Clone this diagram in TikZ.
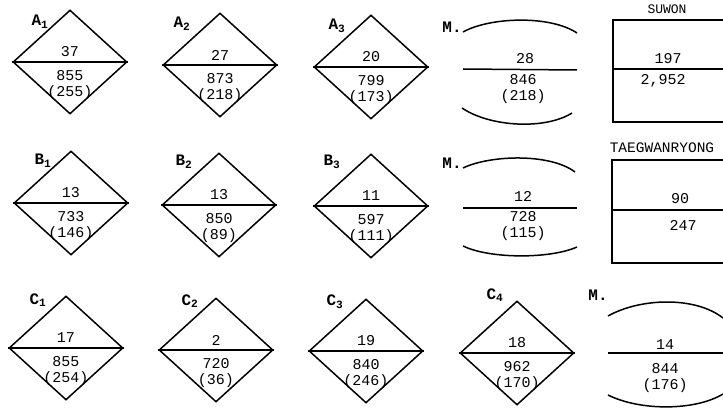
\documentclass[tikz,border=0pt]{standalone}
\usepackage{fontspec}
\setmainfont{Liberation Mono}
\usetikzlibrary{shapes.geometric}

\begin{document}
\begin{tikzpicture}[x=1pt,y=-1pt,
  site/.style={draw,shape=diamond,line width=1.5pt,minimum width=114pt,
    minimum height=104pt,inner sep=0pt},
  rule/.style={line width=1.5pt},
  num/.style={font=\fontsize{15}{16}\selectfont,inner sep=0pt,align=center},
  tag/.style={font=\fontsize{16}{16}\selectfont\bfseries,inner sep=0pt},
  place/.style={font=\fontsize{13}{13}\selectfont,inner sep=0pt}]
  \useasboundingbox (0,0) rectangle (723,409);

  % first row
  \node[site] (a1) at (70,62) {};
  \draw[rule] (a1.west) -- (a1.east);
  \node[tag] (a1l) at (40,22) {A\textsubscript{1}};
  \node[num] (a1t) at ([yshift=10pt]a1.center) {37};
  \node[num] (a1m) at ([yshift=-23pt]a1.center) {855\\(255)};

  \node[site] (a2) at (220,65) {};
  \draw[rule] (a2.west) -- (a2.east);
  \node[tag] (a2l) at (182,24) {A\textsubscript{2}};
  \node[num] (a2t) at ([yshift=10pt]a2.center) {27};
  \node[num] (a2m) at ([yshift=-23pt]a2.center) {873\\(218)};

  \node[site] (a3) at (371,67) {};
  \draw[rule] (a3.west) -- (a3.east);
  \node[tag] (a3l) at (337,26) {A\textsubscript{3}};
  \node[num] (a3t) at ([yshift=10pt]a3.center) {20};
  \node[num] (a3m) at ([yshift=-23pt]a3.center) {799\\(173)};

  \node[tag] (m1l) at (452,27) {M.};
  \draw[rule] (463,32) .. controls (490,17) and (550,15) .. (577,33);
  \draw[rule] (463,69) -- (577,70);
  \draw[rule] (462,108) .. controls (490,127) and (545,130) .. (572,113);
  \node[num] (m1t) at (525,59) {28};
  \node[num] (m1m) at (523,89) {846\\(218)};

  \node[place] (suwon) at (667,9) {SUWON};
  \draw[rule] (723,20) -| (613,122) -- (723,122);
  \draw[rule] (613,69) -- (723,69);
  \node[num] (sut) at (668,59) {197};
  \node[num] (sub) at (663,81) {2,952};

  % second row
  \node[site] (b1) at (71,203) {};
  \draw[rule] (b1.west) -- (b1.east);
  \node[tag] (b1l) at (43,161) {B\textsubscript{1}};
  \node[num] (b1t) at ([yshift=10pt]b1.center) {13};
  \node[num] (b1m) at ([yshift=-23pt]b1.center) {733\\(146)};

  \node[site] (b2) at (219,205) {};
  \draw[rule] (b2.west) -- (b2.east);
  \node[tag] (b2l) at (184,162) {B\textsubscript{2}};
  \node[num] (b2t) at ([yshift=10pt]b2.center) {13};
  \node[num] (b2m) at ([yshift=-23pt]b2.center) {850\\(89)};

  \node[site] (b3) at (371,206) {};
  \draw[rule] (b3.west) -- (b3.east);
  \node[tag] (b3l) at (332,162) {B\textsubscript{3}};
  \node[num] (b3t) at ([yshift=10pt]b3.center) {11};
  \node[num] (b3m) at ([yshift=-23pt]b3.center) {597\\(111)};

  \node[tag] (m2l) at (452,163) {M.};
  \draw[rule] (463,168) .. controls (490,155) and (550,153) .. (575,172);
  \draw[rule] (463,208) -- (577,208);
  \draw[rule] (463,246) .. controls (490,259) and (550,259) .. (577,247);
  \node[num] (m2t) at (523,196) {12};
  \node[num] (m2m) at (523,226) {728\\(115)};

  \node[place,font=\fontsize{14.5}{14.5}\selectfont] (taeg) at (662,148) {TAEGWANRYONG};
  \draw[rule] (723,160) -| (612,263) -- (723,263);
  \draw[rule] (612,210) -- (723,210);
  \node[num] (tat) at (680,199) {90};
  \node[num] (tab) at (683,225) {247};

  % third row
  \node[site] (c1) at (66,348) {};
  \draw[rule] (c1.west) -- (c1.east);
  \node[tag] (c1l) at (38,300) {C\textsubscript{1}};
  \node[num] (c1t) at ([yshift=10pt]c1.center) {17};
  \node[num] (c1m) at ([yshift=-23pt]c1.center) {855\\(254)};

  \node[site] (c2) at (216,350) {};
  \draw[rule] (c2.west) -- (c2.east);
  \node[tag] (c2l) at (190,301) {C\textsubscript{2}};
  \node[num] (c2t) at ([yshift=10pt]c2.center) {2};
  \node[num] (c2m) at ([yshift=-23pt]c2.center) {720\\(36)};

  \node[site] (c3) at (366,351) {};
  \draw[rule] (c3.west) -- (c3.east);
  \node[tag] (c3l) at (335,302) {C\textsubscript{3}};
  \node[num] (c3t) at ([yshift=10pt]c3.center) {19};
  \node[num] (c3m) at ([yshift=-23pt]c3.center) {840\\(246)};

  \node[site] (c4) at (517,353) {};
  \draw[rule] (c4.west) -- (c4.east);
  \node[tag] (c4l) at (495,295) {C\textsubscript{4}};
  \node[num] (c4t) at ([yshift=10pt]c4.center) {18};
  \node[num] (c4m) at ([yshift=-23pt]c4.center) {962\\(170)};

  \node[tag] (m3l) at (598,295) {M.};
  \draw[rule] (608,316) .. controls (640,298) and (695,296) .. (723,318);
  \draw[rule] (608,353) -- (723,353);
  \draw[rule] (608,395) .. controls (640,411) and (695,411) .. (723,394);
  \node[num] (m3t) at (665,345) {14};
  \node[num] (m3m) at (665,378) {844\\(176)};
\end{tikzpicture}
\end{document}
